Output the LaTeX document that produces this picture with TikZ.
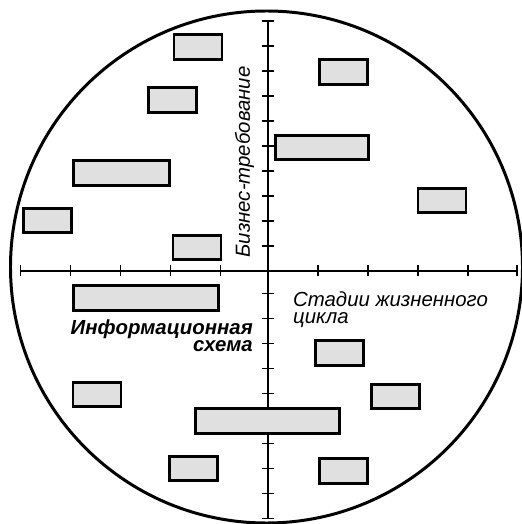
\documentclass[tikz,border=0pt]{standalone}
\usepackage{fontspec}
\setmainfont{Liberation Sans}
\begin{document}
\begin{tikzpicture}[
  box/.style={draw=black, fill=black!12, line width=3.4pt, inner sep=0pt,
    minimum width=1.92cm, minimum height=0.98cm},
  label/.style={inner sep=0pt, font=\fontsize{23.2}{19.3}\selectfont\itshape}
]
\useasboundingbox (-10.72,-10.12) rectangle (10.16,10.84);
\draw [color=black, line width=3.4pt] (-0.06,0.16) circle [radius = 10.24];
\coordinate (xl) at (-9.9,0);
\coordinate (xr) at (9.96,0);
\coordinate (yt) at (0,9.96);
\coordinate (yb) at (0,-9.9);
\draw [color=black, line width=2pt] (xl) -- (xr);
\draw [color=black, line width=2pt] (yb) -- (yt);
\foreach \x in {-9.9,-7.9,-5.9,-3.9,-1.9,2,4,6,8,9.96}
  \draw [color=black, line width=2pt] (\x,-0.22) -- (\x,0.22);
\foreach \y in {1,...,10}
  \draw [color=black, line width=2pt] (-0.24,\y) -- (0.24,\y) (-0.24,{0.1-\y}) -- (0.24,{0.1-\y});
\node (box1) [box, at = {(-2.8,8.96)}] {};
\node (box2) [box, at = {(-3.82,6.84)}] {};
\node (box3) [box, minimum width=3.84cm, at = {(-5.86,3.92)}] {};
\node (box4) [box, at = {(-8.82,2.02)}] {};
\node (box5) [box, at = {(-2.84,0.94)}] {};
\node (box6) [box, at = {(3.02,7.96)}] {};
\node (box7) [box, minimum width=3.72cm, at = {(2.16,4.94)}] {};
\node (box8) [box, at = {(6.96,2.82)}] {};
\node (box9) [box, minimum width=5.8cm, at = {(-4.88,-1.08)}] {};
\node (box10) [box, at = {(-6.84,-4.94)}] {};
\node (box11) [box, minimum width=5.76cm, at = {(-0.02,-6.0)}] {};
\node (box12) [box, at = {(-2.98,-7.9)}] {};
\node (box13) [box, at = {(2.86,-3.28)}] {};
\node (box14) [box, at = {(5.1,-5.02)}] {};
\node (box15) [box, at = {(3.02,-8.0)}] {};
\node (bizreq) [label, rotate=90, at = {(-0.94,4.36)}] {Бизнес-требование};
\node (stages) [label, anchor=north west, align=left, at = {(1.0,-0.82)}] {Стадии жизненного\\цикла};
\node (infschema) [label, font=\fontsize{23.2}{19.3}\selectfont\bfseries\itshape, anchor=north east, align=right, at = {(-0.6,-1.96)}] {Информационная\\схема};
\end{tikzpicture}
\end{document}
